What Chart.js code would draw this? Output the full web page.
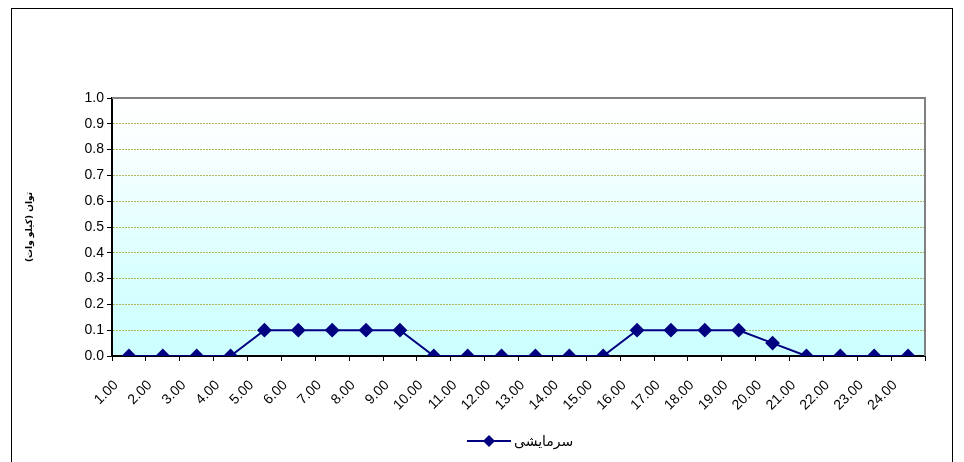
<!DOCTYPE html>
<html>
<head>
<meta charset="utf-8">
<script src="https://cdn.jsdelivr.net/npm/chart.js@4.4.1/dist/chart.umd.min.js"></script>
<style>
  html, body { margin: 0; padding: 0; background: #fff; }
  #wrap { position: relative; width: 964px; height: 462px; }
</style>
</head>
<body>
<div id="wrap"><canvas id="chart" width="964" height="462"></canvas></div>
<script>
// Hours of the day (x axis)
const hours = ['1.00', '2.00', '3.00', '4.00', '5.00', '6.00', '7.00', '8.00', '9.00', '10.00', '11.00', '12.00',
    '13.00', '14.00', '15.00', '16.00', '17.00', '18.00', '19.00', '20.00', '21.00', '22.00', '23.00', '24.00'];

// Cooling load (kW)
const cooling = [0, 0, 0, 0, 0.1, 0.1, 0.1, 0.1, 0.1, 0, 0, 0, 0, 0, 0, 0.1, 0.1, 0.1, 0.1, 0.05, 0, 0, 0, 0];

const seriesName = 'سرمایشی';
const yTitle = 'توان (کیلو وات)';

const navy = '#000080';
const narrow = '"Liberation Sans Narrow", "Liberation Sans", Arial, sans-serif';

// Plot background gradient + frame around the whole chart
const decor = {
    id: 'decor',
    beforeDraw(chart) {
        const c = chart.ctx;
        const a = chart.chartArea;
        c.save();
        const g = c.createLinearGradient(0, a.top, 0, a.bottom);
        g.addColorStop(0, '#ffffff');
        g.addColorStop(0.2, '#f8ffff');
        g.addColorStop(0.7, '#d8ffff');
        g.addColorStop(1, '#ccffff');
        c.fillStyle = g;
        c.fillRect(a.left, a.top, a.right - a.left, a.bottom - a.top);
        c.strokeStyle = '#000';
        c.lineWidth = 1;
        c.strokeRect(11.5, 8.5, 941, 500);
        c.restore();
    },
    afterDatasetsDraw(chart) {
        // top and right edge of the plot area
        const c = chart.ctx;
        const a = chart.chartArea;
        c.save();
        c.strokeStyle = '#808080';
        c.lineWidth = 2;
        c.beginPath();
        c.moveTo(a.left, a.top);
        c.lineTo(a.right, a.top);
        c.lineTo(a.right, a.bottom);
        c.stroke();
        c.restore();
    },
    afterDraw(chart) {
        // legend: line with a diamond, then the series name
        const c = chart.ctx;
        const y = 441;
        c.save();
        c.strokeStyle = navy;
        c.lineWidth = 2;
        c.beginPath();
        c.moveTo(467, y);
        c.lineTo(511, y);
        c.stroke();
        c.fillStyle = navy;
        c.beginPath();
        c.moveTo(489, y - 6);
        c.lineTo(495, y);
        c.lineTo(489, y + 6);
        c.lineTo(483, y);
        c.closePath();
        c.fill();
        c.fillStyle = '#000';
        c.font = '14px "DejaVu Sans", sans-serif';
        c.textBaseline = 'middle';
        c.textAlign = 'left';
        c.fillText(seriesName, 514, y + 1);
        c.restore();
    }
};

const ctx = document.getElementById('chart').getContext('2d');
const chart = new Chart(ctx, {
    type: 'line',
    data: {
        labels: hours,
        datasets: [{
            label: seriesName,
            data: cooling,
            borderColor: navy,
            backgroundColor: navy,
            borderWidth: 2,
            pointStyle: 'rectRot',
            pointRadius: 6,
            pointHoverRadius: 6,
            pointBackgroundColor: navy,
            pointBorderColor: navy,
            tension: 0
        }]
    },
    options: {
        responsive: false,
        animation: false,
        layout: { padding: { left: 22, right: 39, top: 98, bottom: 40 } },
        plugins: {
            legend: { display: false },
            tooltip: { enabled: false }
        },
        scales: {
            x: {
                offset: true,
                afterFit(scale) { scale.height = 66; },
                grid: {
                    offset: true,
                    drawOnChartArea: false,
                    color: '#000',
                    tickLength: 5
                },
                border: { color: '#000', width: 2 },
                ticks: {
                    color: '#000',
                    font: { family: narrow, size: 14 },
                    maxRotation: 45,
                    minRotation: 45,
                    autoSkip: false,
                    padding: 16,
                    labelOffset: -13
                }
            },
            y: {
                min: 0,
                max: 1,
                afterFit(scale) { scale.width = 90; },
                grid: {
                    color: (c) => (c.tick.value === 0 || c.tick.value === 1) ? 'rgba(0,0,0,0)' : '#b4b45c',
                    tickColor: '#000',
                    tickLength: 5,
                    lineWidth: 1
                },
                border: { color: '#000', width: 2, dash: [2, 1] },
                ticks: {
                    stepSize: 0.1,
                    color: '#000',
                    font: { family: narrow, size: 14 },
                    padding: 3,
                    callback: (v) => v.toFixed(1)
                },
                title: {
                    display: true,
                    text: yTitle,
                    color: '#000',
                    font: { family: '"DejaVu Sans", sans-serif', size: 9, weight: 'bold' },
                    padding: { top: 2, bottom: 2 }
                }
            }
        }
    },
    plugins: [decor]
});
</script>
</body>
</html>
